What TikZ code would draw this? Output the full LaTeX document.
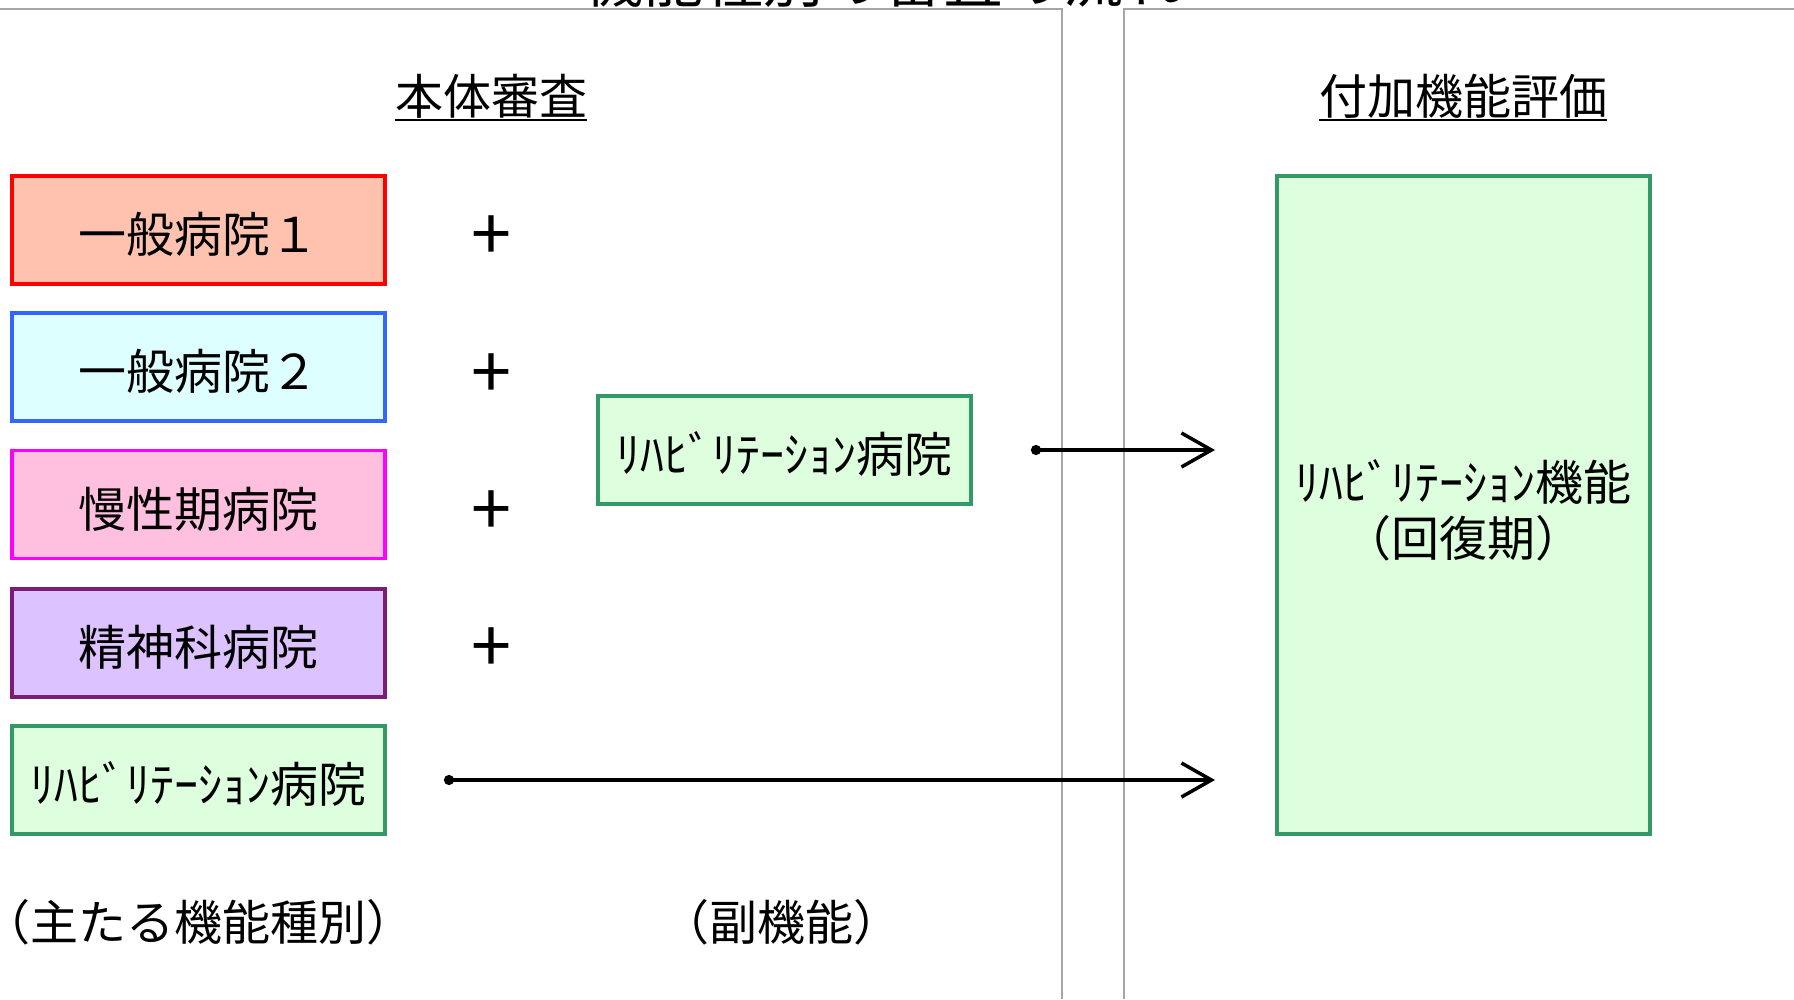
\documentclass[tikz,border=0pt]{standalone}
\usepackage{fontspec}
\setmainfont{Noto Sans CJK JP}
\usetikzlibrary{arrows.meta}
\definecolor{panelgray}{HTML}{A6A6A6}
\definecolor{redfill}{HTML}{FFC2AE}
\definecolor{redline}{HTML}{FF0000}
\definecolor{bluefill}{HTML}{DDFFFF}
\definecolor{blueline}{HTML}{3366FF}
\definecolor{pinkfill}{HTML}{FFC0E0}
\definecolor{pinkline}{HTML}{FF00FF}
\definecolor{purplefill}{HTML}{DCC2FF}
\definecolor{purpleline}{HTML}{7B1C7B}
\definecolor{greenfill}{HTML}{DDFFDD}
\definecolor{greenline}{HTML}{339966}
\tikzset{
  panel/.style={draw=panelgray, line width=2pt},
  hbox/.style={draw, line width=3.5pt, minimum width=373pt, minimum height=108pt, inner sep=0pt,
    text height=50pt, text depth=4.6pt, font=\fontsize{48}{54}\selectfont},
  plussign/.style={inner sep=0pt, font=\fontsize{72}{80}\selectfont},
  heading/.style={inner sep=0pt, font=\fontsize{48}{56}\selectfont},
  label/.style={inner sep=0pt, font=\fontsize{48}{54}\selectfont},
  conn/.style={line width=3.5pt, {Circle[length=10pt]}-{Straight Barb[length=30pt, width=34pt, line width=3.5pt]}}
}
\begin{document}
\begin{tikzpicture}[x=1pt, y=-1pt]
\useasboundingbox (0,0) rectangle (1794,999);
% title (cut off at top)
\node[anchor=south, inner sep=0pt, font=\fontsize{60}{66}\selectfont] (title) at (883,8) {機能種別の審査の流れ};
% panels
\coordinate (pl1) at (0,9);
\coordinate (pl2) at (1062,9);
\coordinate (pl3) at (1062,999);
\coordinate (pr1) at (1124,999);
\coordinate (pr2) at (1124,9);
\coordinate (pr3) at (1794,9);
\draw[panel] (pl1) -- (pl2) -- (pl3);
\draw[panel] (pr1) -- (pr2) -- (pr3);
% headings
\node[heading] (h1) at (491,96) {本体審査};
\draw[line width=2pt] ([yshift=-2pt]h1.south west) -- ([yshift=-2pt]h1.south east);
\node[heading] (h2) at (1463,96) {付加機能評価};
\draw[line width=2pt] ([yshift=-2pt]h2.south west) -- ([yshift=-2pt]h2.south east);
% main function boxes
\node[hbox, draw=redline, fill=redfill] (b1) at (198.5,230) {一般病院１};
\node[hbox, draw=blueline, fill=bluefill] (b2) at (198.5,367) {一般病院２};
\node[hbox, draw=pinkline, fill=pinkfill] (b3) at (198.5,504.5) {慢性期病院};
\node[hbox, draw=purpleline, fill=purplefill] (b4) at (198.5,643) {精神科病院};
\node[hbox, draw=greenline, fill=greenfill] (b5) at (198.5,780) {ﾘﾊﾋﾞﾘﾃｰｼｮﾝ病院};
% plus signs
\node[plussign] (p1) at (491,238) {+};
\node[plussign] (p2) at (491,376) {+};
\node[plussign] (p3) at (491,513) {+};
\node[plussign] (p4) at (491,650) {+};
% sub function box
\node[hbox, draw=greenline, fill=greenfill] (sub) at (784.5,450) {ﾘﾊﾋﾞﾘﾃｰｼｮﾝ病院};
% additional function box
\node[draw=greenline, fill=greenfill, line width=3.5pt, minimum width=373pt, minimum height=658pt] (add) at (1463.5,505) {};
\node[inner sep=0pt, align=center, font=\fontsize{48}{56}\selectfont] (addtext) at ([yshift=-5pt]add.center) {ﾘﾊﾋﾞﾘﾃｰｼｮﾝ機能\\（回復期）};
% connectors
\coordinate (a1s) at (1031,450);
\coordinate (a1e) at (1215,450);
\coordinate (a2s) at (444,780);
\coordinate (a2e) at (1215,780);
\draw[conn] (a1s) -- (a1e);
\draw[conn] (a2s) -- (a2e);
% bottom labels
\node[label, anchor=west] (l1) at (4,922) {\kern-22pt（主たる機能種別）};
\node[label] (l2) at (781,922) {（副機能）};
\end{tikzpicture}
\end{document}
